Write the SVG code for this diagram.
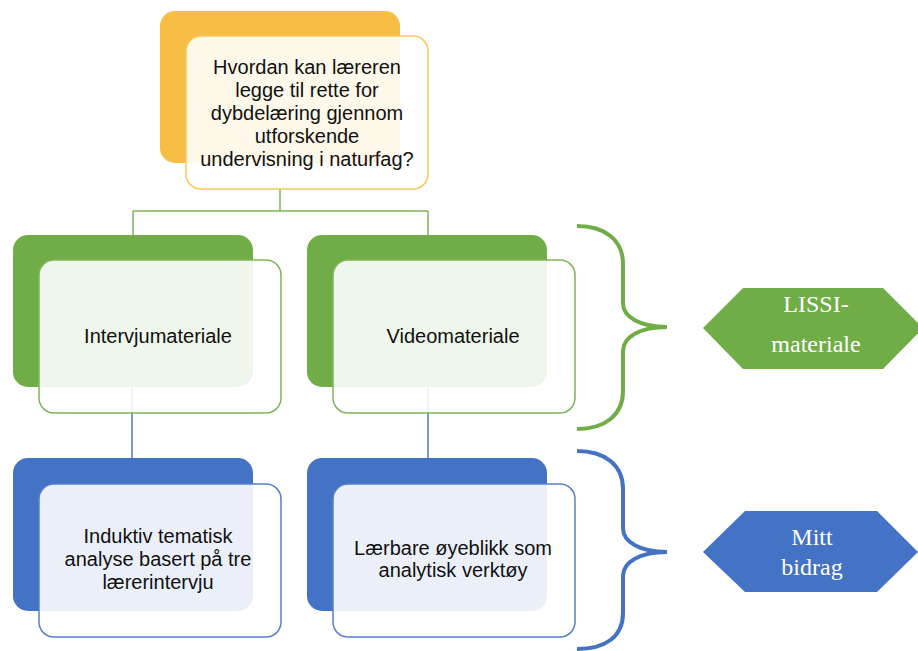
<svg xmlns="http://www.w3.org/2000/svg" width="918" height="651" viewBox="0 0 918 651">
<style>
.t{font-family:"Liberation Sans",Arial,sans-serif;font-size:20px;fill:#111;text-anchor:middle}
.h{font-family:"Liberation Serif","Times New Roman",serif;font-size:24px;fill:#fff;text-anchor:middle}
.fo{fill:#fff;fill-opacity:0.89;stroke:#F7C75A;stroke-width:1.5}
.fg{fill:#fff;fill-opacity:0.89;stroke:#7DB658;stroke-width:1.5}
.fb{fill:#fff;fill-opacity:0.89;stroke:#5580CC;stroke-width:1.5}
.cg{fill:none;stroke:#7DB658;stroke-width:1.5}
.cb{fill:none;stroke:#4E78C8;stroke-width:1.5}
</style>
<rect width="918" height="651" fill="#fff"/>
<g id="connectors">
<path class="cg" d="M280,189 V211 M133,211 H428 M133,211 V240 M428,211 V240"/>
<path class="cb" d="M132,385 V462 M428,385 V462"/>
<path d="M577,226 C605,226 623,240 623,264 L623,303 C623,317 640,327 667,327 C640,327 623,337 623,351 L623,391 C623,415 605,429 577,429" fill="none" stroke="#70AD47" stroke-width="4"/>
<path d="M577,451 C605,451 623,465 623,489 L623,528 C623,542 640,552 667,552 C640,552 623,562 623,576 L623,613 C623,637 605,649 577,649" fill="none" stroke="#4472C4" stroke-width="4"/>
</g>
<g id="question">
<rect x="160" y="11" width="240" height="152" rx="15" fill="#F6BE45"/>
<rect class="fo" x="186" y="36" width="242" height="153" rx="15"/>
<text class="t" x="307" y="74">Hvordan kan læreren</text>
<text class="t" x="307" y="97">legge til rette for</text>
<text class="t" x="307" y="120">dybdelæring gjennom</text>
<text class="t" x="307" y="143">utforskende</text>
<text class="t" x="307" y="166">undervisning i naturfag?</text>
</g>
<g id="intervju">
<rect x="13" y="235" width="240" height="152" rx="15" fill="#70AD47"/>
<rect class="fg" x="39" y="260" width="242" height="153" rx="15"/>
<text class="t" x="158" y="343">Intervjumateriale</text>
</g>
<g id="video">
<rect x="307" y="235" width="240" height="152" rx="15" fill="#70AD47"/>
<rect class="fg" x="333" y="260" width="242" height="153" rx="15"/>
<text class="t" x="453" y="343">Videomateriale</text>
</g>
<g id="induktiv">
<rect x="13" y="458" width="240" height="153" rx="15" fill="#4472C4"/>
<rect class="fb" x="39" y="484" width="242" height="153" rx="15"/>
<text class="t" x="158" y="543">Induktiv tematisk</text>
<text class="t" x="158" y="566">analyse basert på tre</text>
<text class="t" x="158" y="589">lærerintervju</text>
</g>
<g id="laerbare">
<rect x="307" y="458" width="240" height="153" rx="15" fill="#4472C4"/>
<rect class="fb" x="333" y="484" width="242" height="153" rx="15"/>
<text class="t" x="453" y="555">Lærbare øyeblikk som</text>
<text class="t" x="453" y="577">analytisk verktøy</text>
</g>
<g id="lissi">
<polygon points="703,328 743,288 883,288 923,328 883,369 743,369" fill="#70AD47"/>
<text class="h" x="816" y="312">LISSI-</text>
<text class="h" x="816" y="352">materiale</text>
</g>
<g id="bidrag">
<polygon points="703,552 745,511 877,511 918,552 877,592 745,592" fill="#4472C4"/>
<text class="h" x="812" y="545">Mitt</text>
<text class="h" x="812" y="575">bidrag</text>
</g>
</svg>
